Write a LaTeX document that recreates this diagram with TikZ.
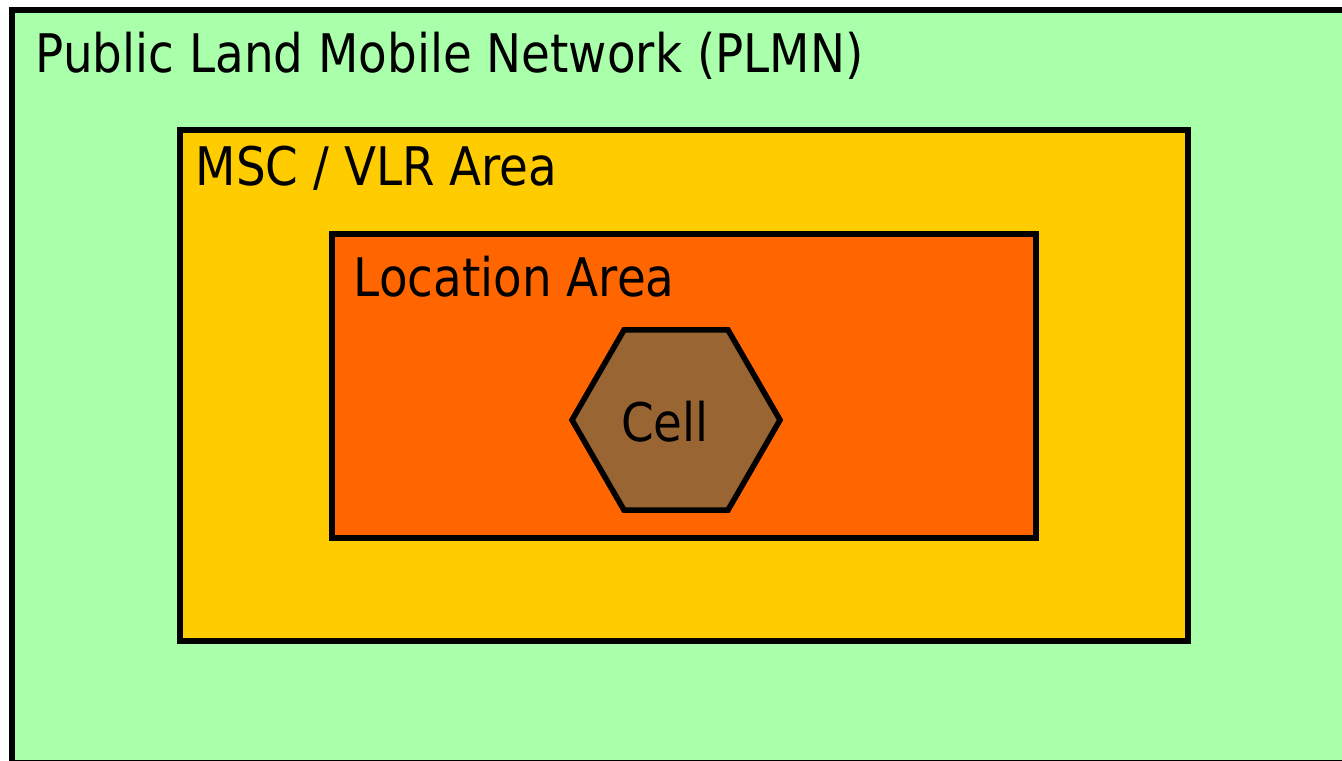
\documentclass[tikz,border=0pt]{standalone}
\usepackage{fontspec}
\setmainfont{DejaVu Sans}[FakeStretch=0.88]
\usetikzlibrary{shapes.geometric}
\definecolor{plmngreen}{RGB}{170,255,170}
\definecolor{mscyellow}{RGB}{255,204,0}
\definecolor{laorange}{RGB}{255,102,0}
\definecolor{cellbrown}{RGB}{153,102,51}

\begin{document}
\begin{tikzpicture}[x=0.5pt, y=-0.5pt, line width=2.8pt,
area/.style={draw=black, line join=miter},
lbl/.style={anchor=base west, inner sep=0pt, font=\fontsize{26.6}{32}\selectfont},
hexa/.style={regular polygon, regular polygon sides=6, draw=black, fill=cellbrown,
minimum size=104pt, inner sep=0pt, outer sep=0pt}]
  \useasboundingbox (0,0) rectangle (1342,760);
  \clip (0,0) rectangle (1342,760);
  % 3 nested areas
  \filldraw[area, fill=plmngreen] (12,10) rectangle (1360,763);
  \filldraw[area, fill=mscyellow] (180,130) rectangle (1188,641);
  \filldraw[area, fill=laorange] (332,234) rectangle (1036,538);
  % 1 cell
  \node[hexa] (cell) at (676,420) {};
  % labels
  \node[lbl] (plmn) at (33,72)  {Public Land Mobile Network (PLMN)};
  \node[lbl] (msc) at (193,185) {MSC / VLR Area};
  \node[lbl] (la) at (351,296)  {Location Area};
  \node[lbl, anchor=base] (celltext) at (665,441) {Cell};
\end{tikzpicture}
\end{document}
